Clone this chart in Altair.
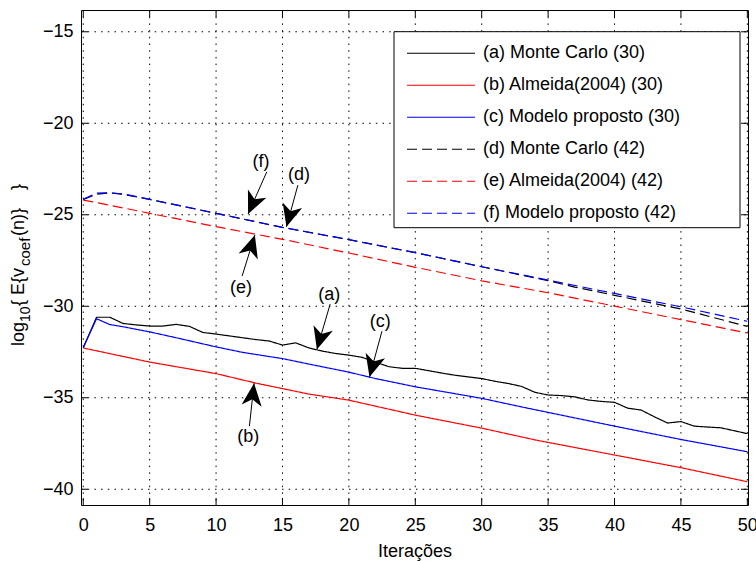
import math
import altair as alt
import pandas as pd

# ---------------- data ----------------
series_names = ["(a) Monte Carlo (30)", "(b) Almeida(2004) (30)", "(c) Modelo proposto (30)",
                "(d) Monte Carlo (42)", "(e) Almeida(2004) (42)", "(f) Modelo proposto (42)"]
series_colors = ["#000000", "#ff0000", "#0000ff", "#000000", "#ff0000", "#0000ff"]
series_dashes = [[1, 0], [1, 0], [1, 0], [10, 5], [10, 5], [10, 5]]

a_x = list(range(0, 51))
a_y = [-32.27, -30.6, -30.6, -30.94, -31.02, -31.08, -31.08, -30.99, -31.1, -31.43,
       -31.52, -31.62, -31.72, -31.82, -31.9, -32.12, -32.0, -32.28, -32.45, -32.58,
       -32.67, -32.79, -33.05, -33.3, -33.39, -33.39, -33.52, -33.65, -33.77, -33.86,
       -33.95, -34.1, -34.22, -34.38, -34.7, -34.85, -34.88, -34.95, -35.12, -35.2,
       -35.25, -35.57, -35.67, -36.04, -36.38, -36.3, -36.55, -36.6, -36.64, -36.8, -36.96]
b_x = [0, 5, 10, 13, 17, 20, 25, 30, 34, 40, 45, 50]
b_y = [-32.28, -33.05, -33.68, -34.2, -34.8, -35.13, -35.95, -36.66, -37.3, -38.13, -38.82, -39.59]
c_x = [0, 1, 2, 3, 5, 7, 10, 12, 15, 17, 20, 22, 25, 30, 33, 35, 40, 45, 50]
c_y = [-32.25, -30.68, -31.0, -31.12, -31.4, -31.72, -32.22, -32.52, -32.86, -33.16,
       -33.6, -33.95, -34.4, -35.03, -35.5, -35.8, -36.55, -37.28, -37.95]
d_x = [0, 1, 2, 3, 5, 10, 15, 20, 25, 30, 35, 37, 40, 45, 50]
d_y = [-24.16, -23.88, -23.8, -23.88, -24.16, -24.92, -25.69, -26.36, -27.07, -27.84,
       -28.6, -28.95, -29.4, -30.15, -31.1]
e_x = [0, 1, 5, 10, 15, 20, 25, 30, 35, 40, 45, 50]
e_y = [-24.2, -24.33, -24.92, -25.65, -26.34, -27.09, -27.87, -28.61, -29.26, -29.99, -30.73, -31.46]
f_x = [0, 1, 2, 3, 5, 10, 15, 20, 25, 30, 35, 40, 45, 50]
f_y = [-24.16, -23.82, -23.8, -23.86, -24.16, -24.92, -25.69, -26.36, -27.07, -27.84,
       -28.57, -29.3, -30.03, -30.82]

x_ticks = [0, 5, 10, 15, 20, 25, 30, 35, 40, 45, 50]
y_ticks = [-40, -35, -30, -25, -20, -15]

# annotation arrows (data coordinates)
arrow_labels = ["(a)", "(b)", "(c)", "(d)", "(e)", "(f)"]
arrow_start_x = [18.59, 12.51, 22.49, 16.16, 11.96, 13.82]
arrow_start_y = [-29.88, -36.55, -31.36, -23.38, -28.35, -22.65]
arrow_tip_x = [17.59, 12.86, 21.55, 15.30, 12.92, 12.41]
arrow_tip_y = [-32.36, -34.21, -33.87, -25.66, -26.11, -24.96]
label_x = [18.52, 12.43, 22.36, 16.25, 11.88, 13.39]
label_y = [-29.39, -37.13, -30.85, -22.83, -29.02, -22.12]

# y-axis title pieces (with subscripts)
ytitle_parts = ["log", "10", "{ E{v", "coef", "(n)}", "}"]

# ---------------- layout ----------------
W, H = 667, 495
X_DOM = [-0.17, 50.05]
Y_DOM = [-40.86, -13.81]
FONT = "Liberation Sans"
FS = 18

xs = alt.Scale(domain=X_DOM, nice=False, zero=False)
ys = alt.Scale(domain=Y_DOM, nice=False, zero=False)
x_axis = alt.Axis(values=x_ticks, title="Iterações", labelPadding=11.5,
                  titleY=51, titleBaseline="alphabetic")
y_axis = alt.Axis(values=y_ticks, title=None, labelPadding=8)


def X(field):
    return alt.X(field, scale=xs, axis=x_axis)


def Y(field):
    return alt.Y(field, scale=ys, axis=y_axis)


rows = []
for name, xx, yy in zip(series_names, [a_x, b_x, c_x, d_x, e_x, f_x], [a_y, b_y, c_y, d_y, e_y, f_y]):
    for n, v in zip(xx, yy):
        rows.append({"serie": name, "n": n, "v": v})
lines_df = pd.DataFrame(rows)

leg = alt.Legend(orient="none", legendX=325, legendY=27.5, title=None,
                 symbolType="stroke", symbolSize=4624, symbolStrokeWidth=1.2,
                 labelFont=FONT, labelFontSize=FS, labelColor="black", labelOffset=7,
                 labelLimit=500, rowPadding=0, clipHeight=31.5, padding=0)

lines = alt.Chart(lines_df).mark_line(strokeWidth=1.2).encode(
    x=X("n:Q"), y=Y("v:Q"),
    color=alt.Color("serie:N", scale=alt.Scale(domain=series_names, range=series_colors), legend=leg),
    strokeDash=alt.StrokeDash("serie:N", scale=alt.Scale(domain=series_names, range=series_dashes), legend=leg),
)

dot = dict(color="black", strokeWidth=1, strokeDash=[1.5, 5.2])
xt_df = pd.DataFrame({"n": x_ticks})
yt_df = pd.DataFrame({"v": y_ticks})
grid_x = alt.Chart(xt_df).mark_rule(**dot).encode(x=X("n:Q"), y=alt.value(0), y2=alt.value(H))
grid_y = alt.Chart(yt_df).mark_rule(**dot).encode(y=Y("v:Q"), x=alt.value(0), x2=alt.value(W))

TL = 7
tk = dict(color="black", strokeWidth=1)
tick_b = alt.Chart(xt_df).mark_rule(**tk).encode(x=X("n:Q"), y=alt.value(H), y2=alt.value(H - TL))
tick_t = alt.Chart(xt_df).mark_rule(**tk).encode(x=X("n:Q"), y=alt.value(0), y2=alt.value(TL))
tick_l = alt.Chart(yt_df).mark_rule(**tk).encode(y=Y("v:Q"), x=alt.value(0), x2=alt.value(TL))
tick_r = alt.Chart(yt_df).mark_rule(**tk).encode(y=Y("v:Q"), x=alt.value(W), x2=alt.value(W - TL))

legend_box = alt.Chart(pd.DataFrame({"k": [0]})).mark_rect(
    fill="white", stroke="black", strokeWidth=1).encode(
    x=alt.value(313), x2=alt.value(659), y=alt.value(21.7), y2=alt.value(217.7))

# arrow geometry
sx = W / (X_DOM[1] - X_DOM[0])
sy = H / (Y_DOM[1] - Y_DOM[0])
angles = []
for x0, y0, x1, y1 in zip(arrow_start_x, arrow_start_y, arrow_tip_x, arrow_tip_y):
    dx = (x1 - x0) * sx
    dy = -(y1 - y0) * sy
    ang = math.degrees(math.atan2(dx, -dy))
    angles.append(ang % 360)
arr_df = pd.DataFrame({"lab": arrow_labels, "sx": arrow_start_x, "sy": arrow_start_y,
                       "tx": arrow_tip_x, "ty": arrow_tip_y, "lx": label_x, "ly": label_y,
                       "ang": angles})
shaft = alt.Chart(arr_df).mark_rule(color="black", strokeWidth=1).encode(
    x=X("sx:Q"), y=Y("sy:Q"), x2="tx:Q", y2="ty:Q")
ARROW = "M0,0 L-0.45,1 L0,0.72 L0.45,1 Z"
heads = alt.Chart(arr_df).mark_point(shape=ARROW, filled=True, fill="black", opacity=1,
                                     strokeWidth=0, size=2000).encode(
    x=X("tx:Q"), y=Y("ty:Q"), angle=alt.Angle("ang:Q", scale=None))
arr_text = alt.Chart(arr_df).mark_text(font=FONT, fontSize=FS, color="black").encode(
    x=X("lx:Q"), y=Y("ly:Q"), text="lab:N")

# y title pieces
yt_starts = [336, 312, 296, 256, 226, 180]
yt_xs = [-57, -51, -57, -51, -57, -57]
yt_sizes = [18, 14, 18, 15, 18, 18]
title_layers = []
for part, ystart, xb, fs in zip(ytitle_parts, yt_starts, yt_xs, yt_sizes):
    title_layers.append(
        alt.Chart(pd.DataFrame({"t": [part]})).mark_text(
            font=FONT, fontSize=fs, color="black", angle=270, align="left",
            baseline="alphabetic").encode(text="t:N", x=alt.value(xb), y=alt.value(ystart))
    )

chart = alt.layer(grid_x, grid_y, tick_b, tick_t, tick_l, tick_r, lines, legend_box,
                  shaft, heads, arr_text, *title_layers).properties(
    width=W, height=H,
    padding={"left": 81, "top": 10, "right": 8, "bottom": 56},
    autosize=alt.AutoSizeParams(type="none"),
    background="white",
).configure_view(stroke="black", strokeWidth=1).configure_axis(
    labelFont=FONT, labelFontSize=FS, titleFont=FONT, titleFontSize=FS,
    titleFontWeight="normal", labelColor="black", titleColor="black",
    ticks=False, tickSize=0, domain=False, grid=False, labelFlush=False, labelOverlap=False)

chart.save("out.html", embed_options={"renderer": "svg", "actions": False})
